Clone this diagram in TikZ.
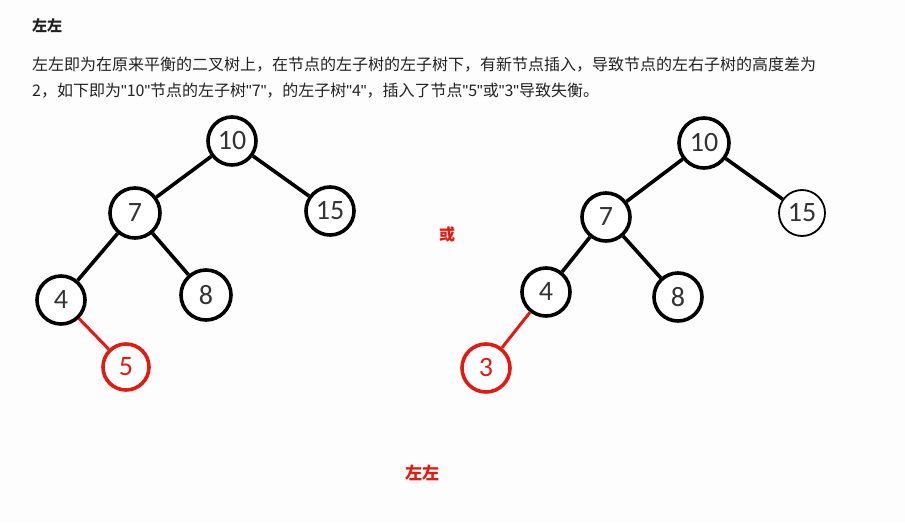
\documentclass[tikz,border=0pt]{standalone}
\usepackage{fontspec}
\setmainfont{Noto Sans CJK SC}
\newfontfamily\numfont{Carlito}
\newfontfamily\latinfont{Liberation Sans}
\newcommand\qq{{\latinfont\char"22\relax}}
\definecolor{bg}{HTML}{FCFDFC}
\definecolor{txt}{HTML}{222222}
\definecolor{myred}{HTML}{E01B12}
\definecolor{numgray}{HTML}{333333}
\begin{document}
\begin{tikzpicture}[x=1pt,y=-1pt,
  tnode/.style={circle,draw=black,line width=3.6pt,fill=white,inner sep=0pt,minimum size=48pt,text=numgray,font=\numfont\fontsize{28}{28}\selectfont},
  rnode/.style={tnode,draw=myred,text=myred},
  edge/.style={line width=3.6pt,black},
  redge/.style={line width=3pt,myred}]
\fill[bg] (0,0) rectangle (905,523);
\useasboundingbox (0,0) rectangle (905,523);
\node[anchor=base west,inner sep=0pt,text=txt,font=\fontsize{15}{15}\selectfont\bfseries] (title) at (32,31) {左左};
\node[anchor=base west,inner sep=0pt,text=txt,font=\fontsize{16}{16}\selectfont] (line1) at (32,70) {左左即为在原来平衡的二叉树上，在节点的左子树的左子树下，有新节点插入，导致节点的左右子树的高度差为};
\node[anchor=base west,inner sep=0pt,text=txt,font=\fontsize{16}{16}\selectfont] (line2) at (32,96) {2，如下即为\qq10\qq 节点的左子树\qq7\qq，的左子树\qq4\qq，插入了节点\qq5\qq 或\qq3\qq 导致失衡。};
% tree 1
\node[tnode] (a10) at (232,141) {10};
\node[tnode] (a15) at (330,211) {15};
\node[tnode,minimum size=50pt] (a7) at (135,213) {7};
\node[tnode] (a4) at (61,300) {4};
\node[tnode,minimum size=50pt] (a8) at (206,295) {8};
\node[rnode,minimum size=46pt] (a5) at (126,367) {5};
\draw[edge] (a10) -- (a7);
\draw[edge] (a10) -- (a15);
\draw[edge] (a7) -- (a4);
\draw[edge] (a7) -- (a8);
\draw[redge] (a4) -- (a5);
% tree 2
\node[tnode,minimum size=50pt] (b10) at (704,143) {10};
\node[tnode,line width=1.8pt,minimum size=46pt] (b15) at (802,213) {15};
\node[tnode] (b7) at (606,217) {7};
\node[tnode] (b4) at (546,292) {4};
\node[tnode] (b8) at (678,297) {8};
\node[rnode] (b3) at (486,368) {3};
\draw[edge] (b10) -- (b7);
\draw[edge] (b10) -- (b15);
\draw[edge] (b7) -- (b4);
\draw[edge] (b7) -- (b8);
\draw[redge] (b4) -- (b3);
% labels
\node[text=myred,font=\fontsize{16}{16}\selectfont\bfseries] (or) at (447,234) {或};
\node[text=myred,font=\fontsize{17}{17}\selectfont\bfseries] (ll) at (422,473) {左左};
\end{tikzpicture}
\end{document}
